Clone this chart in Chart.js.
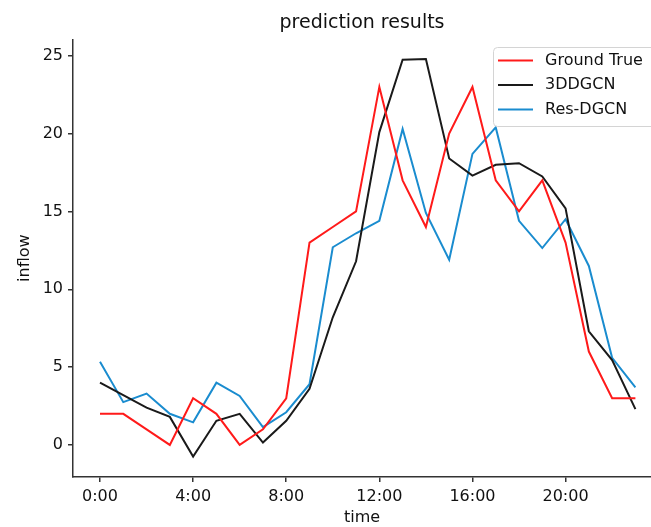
<!DOCTYPE html>
<html>
<head>
<meta charset="utf-8">
<script src="https://cdn.jsdelivr.net/npm/chart.js@4.4.1/dist/chart.umd.min.js"></script>
<style>
  html, body { margin: 0; padding: 0; background: #fff; overflow: hidden; }
  #wrap { width: 651px; height: 527px; }
</style>
</head>
<body>
<div id="wrap"><canvas id="chart" width="651" height="527"></canvas></div>
<script>
// ===== DATA =====
const hours = [0, 1, 2, 3, 4, 5, 6, 7, 8, 9, 10, 11, 12, 13, 14, 15, 16, 17, 18, 19, 20, 21, 22, 23];
const groundTrue = [2, 2, 1, 0, 3, 2, 0, 1, 3, 13, 14, 15, 23, 17, 14, 20, 23, 17, 15, 17, 13, 6, 3, 3];
const dgcn3d = [4.0, 3.2, 2.4, 1.8, -0.75, 1.55, 2.0, 0.15, 1.55, 3.6, 8.2, 11.8, 20.1, 24.75, 24.8, 18.4, 17.3, 18.0, 18.1, 17.25, 15.2, 7.3, 5.45, 2.3];
const resDgcn = [5.35, 2.75, 3.3, 2.0, 1.45, 4.0, 3.15, 1.15, 2.1, 3.9, 12.7, 13.6, 14.4, 20.3, 14.9, 11.9, 18.7, 20.4, 14.4, 12.65, 14.5, 11.5, 5.6, 3.7];
const xTicks = [0, 4, 8, 12, 16, 20];
const xTickLabels = ['0:00', '4:00', '8:00', '12:00', '16:00', '20:00'];
const yTicks = [0, 5, 10, 15, 20, 25];

const FONT = 'DejaVu Sans';
const INK = '#111';
const AXIS = '#333';

const pts = vals => vals.map((v, i) => ({ x: hours[i], y: v }));

// legend box drawn inside the plot, top right (matplotlib style)
const boxLegend = {
  id: 'boxLegend',
  afterDraw(chart) {
    const ctx = chart.ctx;
    ctx.save();
    ctx.beginPath();
    ctx.roundRect(493.5, 47.5, 170, 79, 4);
    ctx.fillStyle = 'rgba(255,255,255,0.85)';
    ctx.fill();
    ctx.strokeStyle = '#d4d4d4';
    ctx.lineWidth = 1;
    ctx.stroke();
    chart.data.datasets.forEach((ds, i) => {
      const y = 60.5 + i * 24.5;
      ctx.beginPath();
      ctx.moveTo(498, y);
      ctx.lineTo(533, y);
      ctx.strokeStyle = ds.borderColor;
      ctx.lineWidth = 2;
      ctx.stroke();
      ctx.fillStyle = INK;
      ctx.font = '16px "' + FONT + '"';
      ctx.textBaseline = 'middle';
      ctx.textAlign = 'left';
      ctx.fillText(ds.label, 545, y);
    });
    ctx.restore();
  }
};

new Chart(document.getElementById('chart'), {
  type: 'line',
  data: {
    datasets: [
      { label: 'Ground True', data: pts(groundTrue), borderColor: '#ff1a1a', borderWidth: 2, pointRadius: 0, tension: 0 },
      { label: '3DDGCN',      data: pts(dgcn3d),     borderColor: '#1a1a1a', borderWidth: 2, pointRadius: 0, tension: 0 },
      { label: 'Res-DGCN',    data: pts(resDgcn),    borderColor: '#1a8ccf', borderWidth: 2, pointRadius: 0, tension: 0 }
    ]
  },
  options: {
    responsive: false,
    animation: false,
    devicePixelRatio: 1,
    layout: { padding: 0 },
    plugins: {
      legend: { display: false },
      tooltip: { enabled: false },
      title: {
        display: true,
        text: 'prediction results',
        fullSize: false,
        color: INK,
        font: { family: FONT, size: 19, weight: 'normal', lineHeight: 1.2 },
        padding: { top: 11.5, bottom: 5 }
      }
    },
    scales: {
      x: {
        type: 'linear',
        min: -1.16,
        max: 23.67,
        afterFit: s => { s.height = 50; },
        afterBuildTicks: s => { s.ticks = xTicks.map(v => ({ value: v })); },
        ticks: {
          color: INK,
          padding: 5,
          font: { family: FONT, size: 16 },
          maxRotation: 0,
          callback: v => xTickLabels[xTicks.indexOf(v)]
        },
        grid: { drawOnChartArea: false, tickLength: 5, color: AXIS, lineWidth: 1.5 },
        border: { color: AXIS, width: 1.5 },
        title: { display: true, text: 'time', color: INK, font: { family: FONT, size: 16 }, padding: 0 }
      },
      y: {
        min: -2.06,
        max: 26.06,
        afterFit: s => { s.width = 73; },
        afterBuildTicks: s => { s.ticks = yTicks.map(v => ({ value: v })); },
        ticks: { color: INK, padding: 5, font: { family: FONT, size: 16 } },
        grid: { drawOnChartArea: false, tickLength: 5, color: AXIS, lineWidth: 1.5 },
        border: { color: AXIS, width: 1.5 },
        title: { display: true, text: 'inflow', color: INK, font: { family: FONT, size: 16 }, padding: 15 }
      }
    }
  },
  plugins: [boxLegend]
});
</script>
</body>
</html>
